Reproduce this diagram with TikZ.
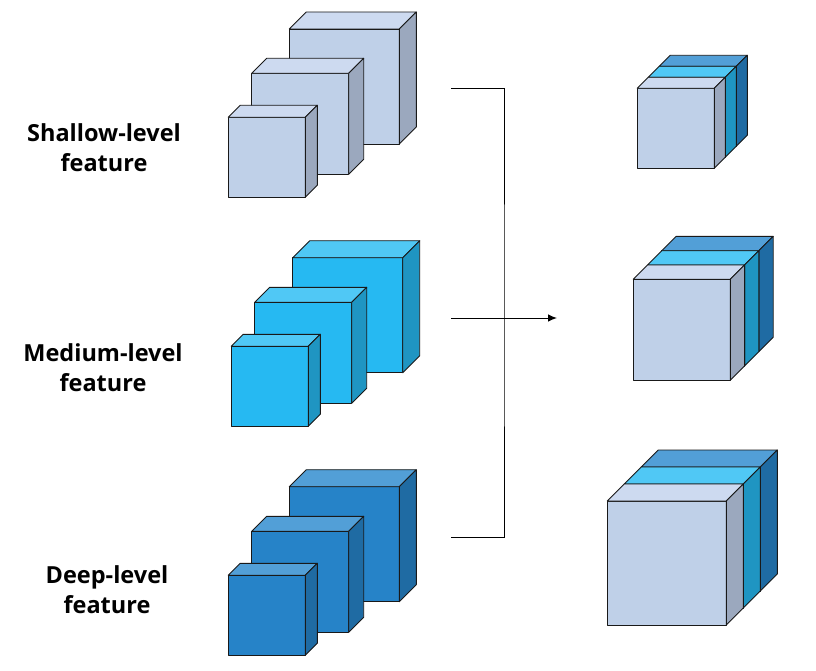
\documentclass[tikz,border=0pt]{standalone}
\usepackage{fontspec}
\setmainfont{Open Sans}
\usepackage{xcolor}
\usepackage{tikz}
\usetikzlibrary{calc}
\usetikzlibrary{arrows.meta}
\usetikzlibrary{positioning}

\definecolor{shallowfront}{HTML}{BFD0E8}
\definecolor{shallowtop}{HTML}{CDDAF0}
\definecolor{shallowside}{HTML}{9BA8BE}
\definecolor{mediumfront}{HTML}{26B9F2}
\definecolor{mediumtop}{HTML}{50C8F5}
\definecolor{mediumside}{HTML}{1F95C2}
\definecolor{deepfront}{HTML}{2683C8}
\definecolor{deeptop}{HTML}{529FD7}
\definecolor{deepside}{HTML}{1F6BA3}

% cube: #1 front top-left corner, #2 width, #3 height, #4 depth, #5 level
\newcommand{\featcube}[5]{%
  \draw [cubeedge, fill=#5front] (#1) rectangle ++(#2, #3);
  \draw [cubeedge, fill=#5top] (#1) -- ++(#4, -#4) -- ++(#2, 0) -- ++(-#4, #4) -- cycle;
  \draw [cubeedge, fill=#5side] ($(#1)+(#2,0)$) -- ++(#4, -#4) -- ++(0, #3) -- ++(-#4, #4) -- cycle;
}
% stacked result: #1 front corner, #2 width, #3 height, #4 depth
\newcommand{\featstack}[4]{%
  \featcube{$(#1)+(2*#4,-2*#4)$}{#2}{#3}{#4}{deep}
  \featcube{$(#1)+(#4,-#4)$}{#2}{#3}{#4}{medium}
  \featcube{#1}{#2}{#3}{#4}{shallow}
}

\tikzset{
  cubeedge/.style={draw=black!90, line width=0.9pt, line join=round},
  levellabel/.style={align=center, inner sep=0pt, font=\fontsize{23.5}{30}\selectfont\bfseries},
  fuseline/.style={draw=black, line width=1pt}
}

\begin{document}
\begin{tikzpicture}[x=1pt, y=-1pt]
\useasboundingbox (0, 0) rectangle (816, 671);

% input feature cubes
\featcube{289.3, 29}{110}{115}{17}{shallow}
\featcube{251.7, 73.3}{97}{101}{15}{shallow}
\featcube{228.3, 117.3}{77}{80}{12}{shallow}

\featcube{292.7, 257.7}{110}{115}{17}{medium}
\featcube{254.7, 302.3}{97}{101}{15}{medium}
\featcube{231.3, 346.3}{77}{80}{12}{medium}

\featcube{289.3, 486.7}{110}{115}{17}{deep}
\featcube{251.7, 531.3}{97}{101}{15}{deep}
\featcube{228.3, 575.3}{77}{80}{12}{deep}

% fused outputs
\featstack{637.3, 88.3}{77}{80}{11}
\featstack{633.3, 279.3}{97}{101}{14.3}
\featstack{607.3, 501}{119}{124}{17}

% labels
\node [levellabel] (S) at (104, 148) {Shallow-level\\feature};
\node [levellabel] (M) at (103, 368) {Medium-level\\feature};
\node [levellabel] (D) at (107, 590) {Deep-level\\feature};

% fusion connector
\coordinate (S1) at (451, 89);
\coordinate (M1) at (451, 318);
\coordinate (D1) at (451, 537);
\coordinate (J) at (504, 318);
\coordinate (O) at (557, 318);
\draw [fuseline] (S1) -| (J) |- (D1);
\draw [fuseline, -{Latex[length=9pt, width=7.5pt]}] (M1) to (O);
\end{tikzpicture}
\end{document}
